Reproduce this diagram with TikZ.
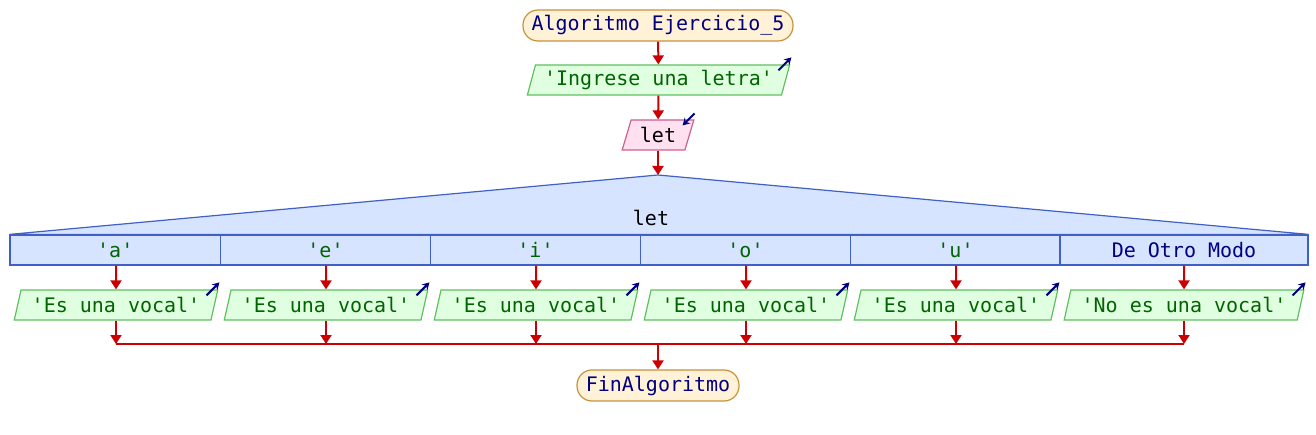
\documentclass[tikz,border=0pt]{standalone}
\usepackage{fontspec}
\setmonofont{DejaVu Sans Mono}
\usetikzlibrary{arrows.meta,shapes.geometric,calc}
\definecolor{navy}{RGB}{0,0,128}
\definecolor{dgreen}{RGB}{0,100,0}
\definecolor{termfill}{RGB}{255,242,214}
\definecolor{termdraw}{RGB}{200,145,60}
\definecolor{outfill}{RGB}{224,255,224}
\definecolor{outdraw}{RGB}{96,192,96}
\definecolor{infill}{RGB}{255,224,240}
\definecolor{indraw}{RGB}{204,96,144}
\definecolor{swfill}{RGB}{214,228,255}
\definecolor{swdraw}{RGB}{64,96,200}
\definecolor{flow}{RGB}{204,0,0}
\begin{document}
\begin{tikzpicture}[x=1pt,y=-1pt,
  font=\ttfamily\fontsize{20}{24}\selectfont,
  term/.style={draw=termdraw,fill=termfill,rounded corners=15pt,minimum height=31pt,inner sep=0pt,text=navy,line width=1.2pt},
  pgram/.style={trapezium,trapezium left angle=69,trapezium right angle=111,trapezium stretches=true,minimum height=30pt,inner sep=0pt,line width=1.2pt},
  outbox/.style={pgram,draw=outdraw,fill=outfill,text=dgreen},
  inbox/.style={pgram,draw=indraw,fill=infill,text=black},
  casebox/.style={draw=swdraw,fill=swfill,minimum height=30pt,inner sep=0pt,line width=1.2pt,text=dgreen},
  flowarrow/.style={draw=flow,line width=2pt,-{Triangle[length=9pt,width=11pt]}},
  flowline/.style={draw=flow,line width=2pt},
  icon/.style={draw=navy,line width=2pt,-{Stealth[length=7pt,width=8pt]}}
]
\useasboundingbox (0,0) rectangle (1316,435);

\node[term,minimum width=270pt] (start) at (658,25.5) {Algoritmo Ejercicio\_5};
\node[outbox,minimum width=263pt] (o0) at (658.5,80) {'Ingrese una letra'};
\node[inbox,minimum width=72pt] (in) at (658,135) {let};

\coordinate (apex) at (658,175);
\node[casebox,minimum width=210.5pt] (c1) at (115.25,250) {'a'};
\node[casebox,minimum width=210pt] (c2) at (325.5,250) {'e'};
\node[casebox,minimum width=210pt] (c3) at (535.5,250) {'i'};
\node[casebox,minimum width=210pt] (c4) at (745.5,250) {'o'};
\node[casebox,minimum width=210pt] (c5) at (955.5,250) {'u'};
\node[casebox,minimum width=248pt,text=navy] (c6) at (1184,250) {De Otro Modo};
\draw[draw=swdraw,fill=swfill,line width=1.2pt] (c1.north west) -- (apex) -- (c6.north east) -- cycle;
\node[text=black] (sel) at (651,218) {let};

\node[outbox,minimum width=204pt] (o1) at (116,305) {'Es una vocal'};
\node[outbox,minimum width=204pt] (o2) at (326,305) {'Es una vocal'};
\node[outbox,minimum width=204pt] (o3) at (536,305) {'Es una vocal'};
\node[outbox,minimum width=204pt] (o4) at (746,305) {'Es una vocal'};
\node[outbox,minimum width=204pt] (o5) at (956,305) {'Es una vocal'};
\node[outbox,minimum width=240pt] (o6) at (1184,305) {'No es una vocal'};

\node[term,minimum width=162pt] (end) at (658,385.5) {FinAlgoritmo};

% icons
\foreach \n in {o0,o1,o2,o3,o4,o5,o6}{
  \draw[icon] ($(\n.top right corner)+(-12,6)$) -- ($(\n.top right corner)+(1,-7)$);
}
\draw[icon] ($(in.top right corner)+(0,-6)$) -- ($(in.top right corner)+(-12,6)$);

% flow
\draw[flowarrow] (start) -- (o0);
\draw[flowarrow] (o0) -- (in);
\draw[flowarrow] (in) -- (apex);
\coordinate (m1) at (116,344);
\coordinate (m2) at (326,344);
\coordinate (m3) at (536,344);
\coordinate (m4) at (746,344);
\coordinate (m5) at (956,344);
\coordinate (m6) at (1184,344);
\coordinate (mc) at (658,344);
\foreach \i in {1,...,6}{
  \draw[flowarrow] (c\i.south -| o\i) -- (o\i);
  \draw[flowarrow] (o\i) -- (m\i);
}
\draw[flowline] (m1) -- (m6);
\draw[flowarrow] (mc) -- (end);
\end{tikzpicture}
\end{document}
